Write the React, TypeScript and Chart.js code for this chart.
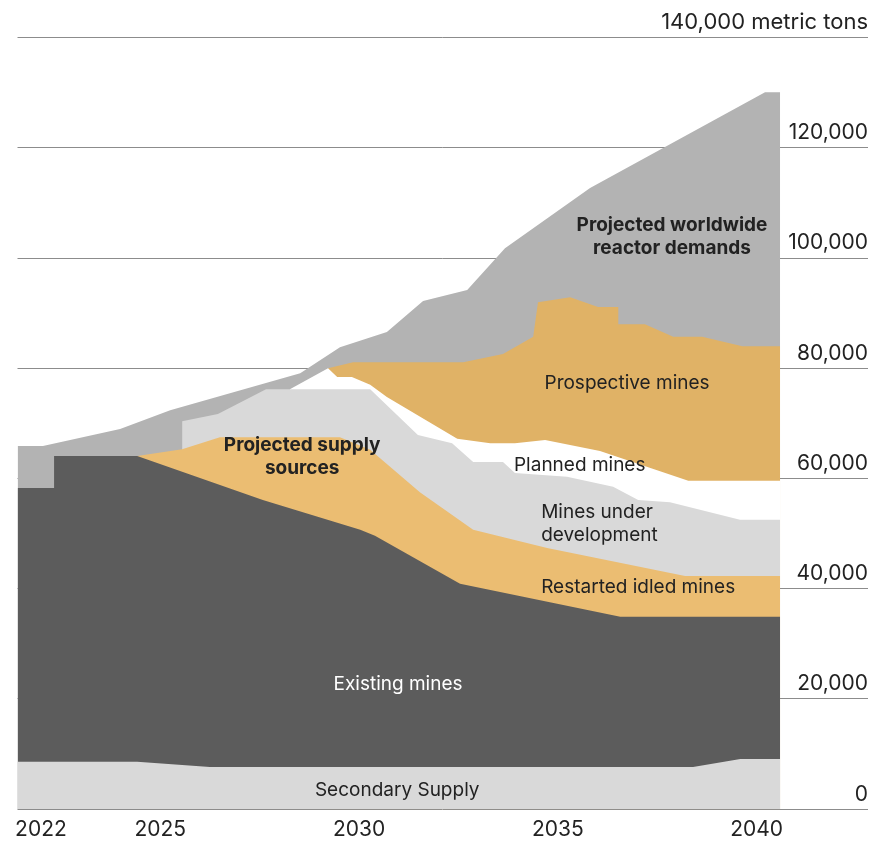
import React, { useEffect, useRef } from 'react';
import { Chart, registerables } from 'chart.js';

Chart.register(...registerables);

// ---------- axis ticks ----------
const X_TICKS = [2022, 2025, 2030, 2035, 2040];
const Y_TICKS = [0, 20000, 40000, 60000, 80000, 100000, 120000, 140000];
const Y_UNIT = 'metric tons';
const X_MIN = 2021.41;
const X_MAX = 2042.8;

// ---------- series (top boundary of each layer, metric tons) ----------
const SECONDARY_YEARS = [2021.41, 2024.42, 2026.25, 2038.4, 2039.59, 2040.59];
const SECONDARY_VALUES = [8600, 8600, 7650, 7650, 9100, 9100];

const EXISTING_YEARS = [2021.41, 2022.33, 2022.33, 2024.42, 2027.58, 2030.03, 2030.4, 2032.54, 2036.57, 2040.59];
const EXISTING_VALUES = [58300, 58300, 64100, 64100, 56100, 50700, 49600, 40900, 34900, 34900];

const RESTARTED_YEARS = [2024.42, 2025.55, 2026.5, 2029.52, 2030.28, 2031.53, 2032.87, 2034.73, 2038.2, 2040.59];
const RESTARTED_VALUES = [64100, 65300, 67500, 67500, 65200, 57500, 50700, 47400, 42300, 42300];

const UNDERDEV_YEARS = [2025.55, 2025.55, 2026.45, 2027.66, 2030.28, 2031.48, 2032.34, 2032.87, 2033.62, 2033.92, 2035.23, 2036.39, 2037.02, 2037.82, 2039.58, 2040.59];
const UNDERDEV_VALUES = [65300, 70400, 71700, 76200, 76200, 67900, 66400, 63000, 63000, 61000, 60300, 58500, 56100, 55700, 52500, 52500];

const PLANNED_YEARS = [2028.26, 2029.22, 2029.45, 2029.82, 2030.28, 2030.7, 2032.47, 2033.3, 2033.92, 2034.68, 2036.06, 2038.28, 2040.59];
const PLANNED_VALUES = [76200, 80000, 78400, 78400, 77000, 74800, 67200, 66400, 66400, 67000, 65000, 59600, 59600];

const PROSPECTIVE_YEARS = [2029.22, 2029.85, 2032.62, 2033.62, 2034.38, 2034.5, 2035.31, 2036.01, 2036.52, 2036.52, 2037.19, 2037.9, 2038.63, 2039.64, 2040.59];
const PROSPECTIVE_VALUES = [80000, 81100, 81100, 82600, 85700, 92000, 92900, 91100, 91100, 88000, 88000, 85700, 85700, 84000, 84000];

const DEMAND_YEARS = [2021.41, 2022.05, 2023.99, 2025.25, 2028.52, 2029.52, 2030.7, 2031.61, 2032.72, 2033.67, 2035.81, 2040.21, 2040.59];
const DEMAND_VALUES = [65900, 65900, 69000, 72400, 79100, 83800, 86600, 92200, 94200, 101800, 112700, 130100, 130100];

// ---------- styling ----------
const COLORS = {
  secondary: '#d9d9d9',
  existing: '#5c5c5c',
  restarted: '#ebbd72',
  underdev: '#d9d9d9',
  planned: '#ffffff',
  prospective: '#e0b266',
  demand: '#b3b3b3',
};
const TEXT = '#222222';
const FONT = "Inter, 'Noto Sans', sans-serif";
const LABEL_SIZE = 19;
const LINE_H = 23;
const TICK_SIZE = 21;
const TOP_TICK_SIZE = 22;

// annotation placement (data coordinates)
const AREA_LABELS = [
  { lines: ['Projected worldwide', 'reactor demands'], year: 2037.87, value: 103800, bold: true, color: TEXT, align: 'center' },
  { lines: ['Projected supply', 'sources'], year: 2028.57, value: 64000, bold: true, color: TEXT, align: 'center' },
  { lines: ['Prospective mines'], year: 2036.74, value: 77300, bold: false, color: TEXT, align: 'center' },
  { lines: ['Planned mines'], year: 2035.55, value: 62350, bold: false, color: TEXT, align: 'center' },
  { lines: ['Mines under', 'development'], year: 2034.58, value: 51830, bold: false, color: TEXT, align: 'left' },
  { lines: ['Restarted idled mines'], year: 2037.02, value: 40300, bold: false, color: TEXT, align: 'center' },
  { lines: ['Existing mines'], year: 2030.98, value: 22700, bold: false, color: '#ffffff', align: 'center' },
  { lines: ['Secondary Supply'], year: 2030.96, value: 3480, bold: false, color: TEXT, align: 'center' },
];

const labelPlugin = {
  id: 'areaLabels',
  afterDatasetsDraw(chart: any) {
    const { ctx, scales } = chart;
    const xs = scales.x;
    const ys = scales.y;
    ctx.save();
    for (const l of AREA_LABELS) {
      ctx.font = `${l.bold ? 700 : 400} ${LABEL_SIZE}px ${FONT}`;
      ctx.fillStyle = l.color;
      ctx.textAlign = l.align;
      ctx.textBaseline = 'middle';
      const px = xs.getPixelForValue(l.year);
      const py = ys.getPixelForValue(l.value);
      const n = l.lines.length;
      l.lines.forEach((t, i) => {
        ctx.fillText(t, px, py + (i - (n - 1) / 2) * LINE_H);
      });
    }
    ctx.restore();
  },
};

function series(label: string, years: number[], values: number[], color: string) {
  return {
    label,
    data: years.map((yr, i) => ({ x: yr, y: values[i] })),
    fill: 'origin',
    backgroundColor: color,
    borderColor: 'rgba(0,0,0,0)',
    borderWidth: 0,
    pointRadius: 0,
    tension: 0,
  };
}

export default function App() {
  const ref = useRef<HTMLCanvasElement | null>(null);

  useEffect(() => {
    if (!ref.current) return;
    Chart.defaults.font.family = FONT;
    const datasets = [
      series('Secondary Supply', SECONDARY_YEARS, SECONDARY_VALUES, COLORS.secondary),
      series('Existing mines', EXISTING_YEARS, EXISTING_VALUES, COLORS.existing),
      series('Restarted idled mines', RESTARTED_YEARS, RESTARTED_VALUES, COLORS.restarted),
      series('Mines under development', UNDERDEV_YEARS, UNDERDEV_VALUES, COLORS.underdev),
      series('Planned mines', PLANNED_YEARS, PLANNED_VALUES, COLORS.planned),
      series('Prospective mines', PROSPECTIVE_YEARS, PROSPECTIVE_VALUES, COLORS.prospective),
      series('Projected worldwide reactor demands', DEMAND_YEARS, DEMAND_VALUES, COLORS.demand),
    ];
    const chart = new Chart(ref.current, {
      type: 'line',
      data: { datasets } as any,
      plugins: [labelPlugin],
      options: {
        responsive: false,
        animation: false,
        events: [],
        layout: { padding: { top: 37.6, left: 17.5, right: 7, bottom: -7.8 } },
        plugins: { legend: { display: false }, tooltip: { enabled: false } },
        scales: {
          x: {
            type: 'linear',
            min: X_MIN,
            max: X_MAX,
            grid: { display: false, drawTicks: false },
            border: { display: false },
            afterBuildTicks: (s: any) => {
              s.ticks = X_TICKS.map((v) => ({ value: v }));
            },
            ticks: {
              autoSkip: false,
              maxRotation: 0,
              padding: 7.7,
              color: TEXT,
              font: { size: TICK_SIZE },
              callback: (v: any) => String(v),
            },
          },
          y: {
            position: 'right',
            min: 0,
            max: 140000,
            grid: { color: '#8c8c8c', lineWidth: 1, drawTicks: false },
            border: { display: false },
            afterBuildTicks: (s: any) => {
              s.ticks = Y_TICKS.map((v) => ({ value: v }));
            },
            ticks: {
              mirror: true,
              padding: 0,
              labelOffset: -15,
              color: TEXT,
              font: (c: any) => ({ size: c.tick && c.tick.value === 140000 ? TOP_TICK_SIZE : TICK_SIZE }),
              callback: (v: any) =>
                v === 140000 ? `140,000 ${Y_UNIT}` : Number(v).toLocaleString('en-US'),
            },
          },
        },
      } as any,
    });
    return () => chart.destroy();
  }, []);

  return (
    <div style={{ position: 'absolute', left: 0, top: 0, width: 875, height: 842, background: '#ffffff' }}>
      <canvas ref={ref} width={875} height={842} style={{ display: 'block' }} />
    </div>
  );
}
